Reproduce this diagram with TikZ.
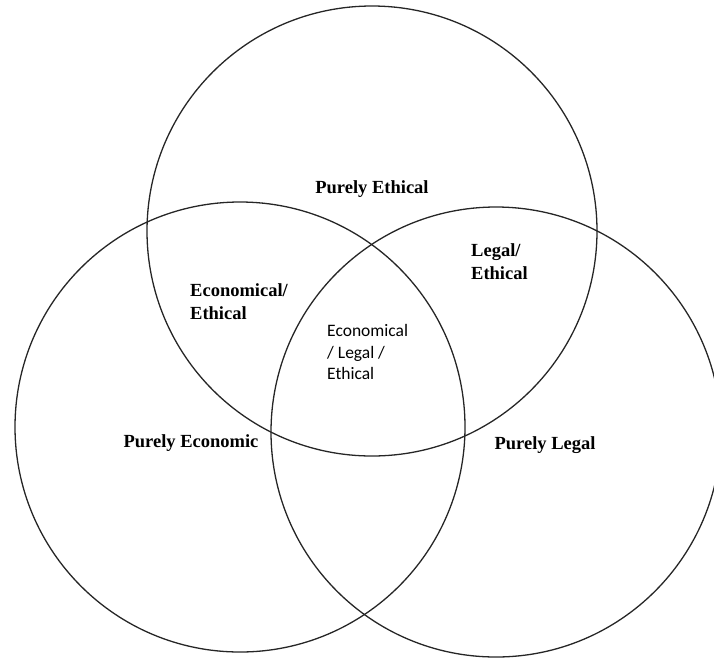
\documentclass[tikz,border=0pt]{standalone}
\usepackage{fontspec}
\setmainfont{Liberation Serif}
\newfontfamily\smallsans{Carlito}
\begin{document}
\begin{tikzpicture}[x=1pt,y=-1pt,
  ring/.style={circle,draw=black!85,line width=1.3pt,inner sep=0pt,minimum size=450pt},
  lbl/.style={font=\fontsize{18.5}{23}\selectfont\bfseries,align=left,inner sep=0pt},
  slbl/.style={font=\fontsize{17.5}{21.5}\selectfont\smallsans,align=left,inner sep=0pt}]
\useasboundingbox (0,0) rectangle (714,657);
\node[ring] (ethical) at (372,231) {};
\node[ring] (economic) at (240,427) {};
\node[ring] (legal) at (496,432) {};
\node[lbl] (pe) at (372,189) {Purely Ethical};
\node[lbl,anchor=west] (ee) at (190,301.5) {Economical/\\Ethical};
\node[lbl,anchor=west] (le) at (471,261.5) {Legal/\\Ethical};
\node[slbl,anchor=west] (ele) at (327,352) {Economical\\/ Legal /\\Ethical};
\node[lbl] (pec) at (191,443) {Purely Economic};
\node[lbl] (pl) at (545,445) {Purely Legal};
\end{tikzpicture}
\end{document}
